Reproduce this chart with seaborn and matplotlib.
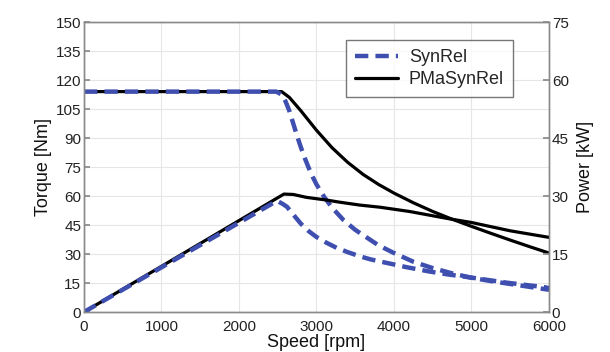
import matplotlib
matplotlib.use("Agg")
import matplotlib.pyplot as plt
import seaborn as sns
import pandas as pd

# ---- data ----
syn_torque_rpm = [0, 2480, 2550, 2600, 2650, 2700, 2750, 2800, 2850, 2900, 2950, 3000, 3100,
                  3200, 3350, 3500, 3650, 3800, 4000, 4250, 4500, 4750, 5000, 5250, 5500, 5750, 6000]
syn_torque_nm = [114, 114, 112.5, 109, 104, 97.5, 91, 85, 79.5, 74.5, 70, 66, 59.5,
                 54, 47.5, 42.5, 38.5, 34.5, 30.5, 26, 22.7, 20, 17.7, 16, 14.5, 13, 11.5]

pma_torque_rpm = [0, 2550, 2650, 2800, 3000, 3200, 3400, 3600, 3800, 4000, 4250, 4500, 4750,
                  5000, 5250, 5500, 5750, 6000]
pma_torque_nm = [114, 114, 111, 104, 94, 85, 77.5, 71.2, 66, 61.5, 56.5, 52, 48,
                 44.3, 40.7, 37.2, 33.8, 30.5]

syn_power_rpm = [0, 2490, 2560, 2620, 2700, 2800, 2900, 3000, 3130, 3260, 3400, 3560, 3700,
                 3860, 4160, 4450, 4700, 5000, 5450, 5950, 6000]
syn_power_kw = [0, 28.75, 28.0, 27.2, 25.2, 22.8, 20.9, 19.4, 17.9, 16.6, 15.5, 14.4, 13.6,
                12.9, 11.6, 10.5, 9.7, 8.9, 7.6, 6.4, 6.15]

pma_power_rpm = [0, 2580, 2700, 2870, 3130, 3300, 3560, 3820, 4200, 4700, 5000, 5500, 6000]
pma_power_kw = [0, 30.5, 30.4, 29.65, 28.95, 28.4, 27.65, 27.1, 26.0, 24.15, 23.15, 21.0, 19.3]

series_names = ["SynRel", "PMaSynRel"]
x_ticks = [0, 1000, 2000, 3000, 4000, 5000, 6000]
torque_ticks = [0, 15, 30, 45, 60, 75, 90, 105, 120, 135, 150]
power_ticks = [0, 15, 30, 45, 60, 75]

# ---- styling ----
sns.set_theme(style="white")
plt.rcParams["font.family"] = ["Liberation Sans", "DejaVu Sans"]

blue = "#3f4fb0"
black = "#000000"

fig = plt.figure(figsize=(6.10, 3.52), dpi=100)
ax = fig.add_axes([0.1377, 0.1136, 0.7623, 0.8239])
ax2 = ax.twinx()

torque_df = pd.concat([
    pd.DataFrame({"rpm": syn_torque_rpm, "val": syn_torque_nm, "motor": series_names[0]}),
    pd.DataFrame({"rpm": pma_torque_rpm, "val": pma_torque_nm, "motor": series_names[1]}),
])
power_df = pd.concat([
    pd.DataFrame({"rpm": syn_power_rpm, "val": syn_power_kw, "motor": series_names[0]}),
    pd.DataFrame({"rpm": pma_power_rpm, "val": pma_power_kw, "motor": series_names[1]}),
])

for a, df in ((ax, torque_df), (ax2, power_df)):
    sub = df[df.motor == series_names[1]]
    sns.lineplot(data=sub, x="rpm", y="val", ax=a, color=black, lw=2.3,
                 estimator=None, label=series_names[1], legend=False)
    sub = df[df.motor == series_names[0]]
    sns.lineplot(data=sub, x="rpm", y="val", ax=a, color=blue, lw=3.2,
                 estimator=None, label=series_names[0], legend=False,
                 dashes=False, linestyle=(0, (3.0, 1.6)))

ax.set_xlim(0, 6000)
ax.set_ylim(0, 150)
ax2.set_ylim(0, 75)
ax.set_xticks(x_ticks)
ax.set_yticks(torque_ticks)
ax2.set_yticks(power_ticks)

ax.grid(True, color="#e6e6e6", lw=0.8, linestyle="-")
ax.set_axisbelow(True)

for a in (ax, ax2):
    for s in a.spines.values():
        s.set_color("#8a8a8a")
        s.set_linewidth(1.0)
ax.tick_params(axis="y", direction="in", length=4, color="#8a8a8a",
               labelsize=11, labelcolor="#222222", pad=2)
ax.tick_params(axis="x", direction="in", length=4, color="#8a8a8a",
               labelsize=11, labelcolor="#222222", pad=6)
ax2.tick_params(axis="y", direction="in", length=4, color="#8a8a8a",
                labelsize=11, labelcolor="#222222", pad=2)

ax.set_xlabel("Speed [rpm]", fontsize=13, labelpad=0, color="#111111")
ax.set_ylabel("Torque [Nm]", fontsize=13, labelpad=3, color="#111111")
ax2.set_ylabel("Power [kW]", fontsize=13, labelpad=6, color="#111111")

handles = [ax.get_lines()[1], ax.get_lines()[0]]
leg = ax.legend(handles, series_names, loc="upper right",
                bbox_to_anchor=(0.942, 0.969), fontsize=13, frameon=True,
                fancybox=False, edgecolor="#555555", handlelength=2.4,
                borderpad=0.5, labelspacing=0.3, handletextpad=0.6)
leg.get_frame().set_linewidth(1.0)
leg.set_zorder(10)

fig.savefig("out.png", dpi=100)
